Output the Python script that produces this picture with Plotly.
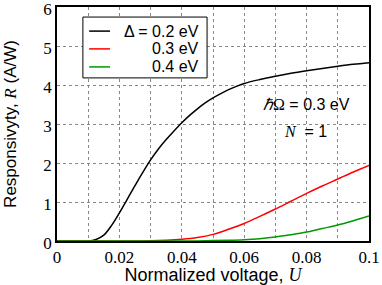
import plotly.graph_objects as go

# Data
u_black = [0.0, 0.005, 0.01, 0.0125, 0.015, 0.0175, 0.02, 0.0225, 0.025, 0.0275, 0.03, 0.0325,
           0.035, 0.0375, 0.04, 0.0425, 0.045, 0.0475, 0.05, 0.0525, 0.055, 0.0575, 0.06,
           0.065, 0.07, 0.075, 0.08, 0.085, 0.09, 0.095, 0.1]
r_black = [0.0, 0.0, 0.0, 0.04, 0.15, 0.40, 0.72, 1.07, 1.42, 1.76, 2.08, 2.36,
           2.60, 2.82, 3.03, 3.22, 3.39, 3.54, 3.67, 3.78, 3.88, 3.965, 4.04,
           4.14, 4.225, 4.30, 4.365, 4.425, 4.48, 4.53, 4.57]

u_red = [0.0, 0.01, 0.02, 0.025, 0.03, 0.035, 0.04, 0.045, 0.05, 0.055, 0.06, 0.065, 0.07,
         0.075, 0.08, 0.085, 0.09, 0.095, 0.1]
r_red = [0.0, 0.0, 0.0, 0.0, 0.006, 0.02, 0.045, 0.09, 0.17, 0.3, 0.45, 0.63, 0.82,
         1.02, 1.22, 1.41, 1.59, 1.77, 1.94]

u_green = [0.0, 0.01, 0.02, 0.03, 0.04, 0.045, 0.05, 0.055, 0.06, 0.065, 0.07, 0.075, 0.08,
           0.085, 0.09, 0.095, 0.1]
r_green = [0.0, 0.0, 0.0, 0.0, 0.0, 0.003, 0.01, 0.02, 0.035, 0.06, 0.1, 0.16, 0.23,
           0.32, 0.41, 0.52, 0.64]

series_names = ["Δ = 0.2 eV", "0.3 eV", "0.4 eV"]
series_colors = ["#000000", "#ff0000", "#009900"]
x_ticks = [0, 0.02, 0.04, 0.06, 0.08, 0.1]
x_ticktext = ["0", "0.02", "0.04", "0.06", "0.08", "0.1"]
y_ticks = [0, 1, 2, 3, 4, 5, 6]

SERIF = "Liberation Serif, Times New Roman, serif"
SANS = "Liberation Sans, Arial, sans-serif"

fig = go.Figure()
for u, r, name, col in zip([u_black, u_red, u_green], [r_black, r_red, r_green],
                           series_names, series_colors):
    fig.add_trace(go.Scatter(x=u, y=r, mode="lines", name=name,
                             line=dict(color=col, width=1.5, shape="spline", smoothing=1.0),
                             showlegend=False, cliponaxis=True))

# Custom legend (right-aligned labels)
legend_rows = [0.897, 0.821, 0.744]
fig.add_shape(type="rect", xref="paper", yref="paper", x0=0.083, x1=0.481, y0=0.697, y1=0.957,
              line=dict(color="black", width=1), fillcolor="white", layer="above")
for yy, name, col in zip(legend_rows, series_names, series_colors):
    fig.add_shape(type="line", xref="paper", yref="paper", x0=0.103, x1=0.170, y0=yy, y1=yy,
                  line=dict(color=col, width=1.5), layer="above")
    fig.add_annotation(xref="paper", yref="paper", x=0.462, y=yy, text=name, showarrow=False,
                       xanchor="right", yanchor="middle",
                       font=dict(family=SANS, size=16, color="black"))

fig.add_annotation(xref="paper", yref="paper", x=0.80, y=0.585, showarrow=False,
                   xanchor="center", yanchor="middle",
                   text="<span style='font-family:Liberation Serif'><i>ℏ</i>Ω</span> = 0.3 eV",
                   font=dict(family=SANS, size=16, color="black"))
fig.add_annotation(xref="paper", yref="paper", x=0.795, y=0.47, showarrow=False,
                   xanchor="center", yanchor="middle",
                   text="<span style='font-family:Liberation Serif'><i>N</i></span>  = 1",
                   font=dict(family=SANS, size=16, color="black"))

fig.update_layout(
    width=382, height=285,
    margin=dict(l=57, r=13, t=7, b=44, autoexpand=False),
    plot_bgcolor="white", paper_bgcolor="white",
    xaxis=dict(range=[0, 0.1], tickvals=x_ticks, ticktext=x_ticktext, automargin=False,
               ticklabeloverflow="allow",
               showgrid=True, gridcolor="#888888", griddash="dot", gridwidth=1,
               minor=dict(dtick=0.01, showgrid=True, gridcolor="#888888", griddash="dot", gridwidth=1),
               showline=True, linecolor="black", linewidth=1.5, mirror=True,
               ticks="", zeroline=False,
               tickfont=dict(family=SERIF, size=17, color="black"),
               title=dict(text="Normalized voltage, <span style='font-family:Liberation Serif'><i>U</i></span>",
                          font=dict(family=SANS, size=18, color="black"), standoff=2)),
    yaxis=dict(range=[0, 6], tickvals=y_ticks, automargin=False,
               ticklabeloverflow="allow", ticklabelshift=2,
               showgrid=True, gridcolor="#888888", griddash="dot", gridwidth=1,
               showline=True, linecolor="black", linewidth=1.5, mirror=True,
               ticks="", zeroline=False,
               tickfont=dict(family=SERIF, size=17, color="black"),
               title=dict(text="Responsivyty, <span style='font-family:Liberation Serif'><i>R</i></span> (A/W)",
                          font=dict(family=SANS, size=17, color="black"), standoff=22)),
)

fig.write_html("out.html", config={"displayModeBar": False},
               post_script="document.body.style.margin='0px';document.body.style.overflow='hidden';")
